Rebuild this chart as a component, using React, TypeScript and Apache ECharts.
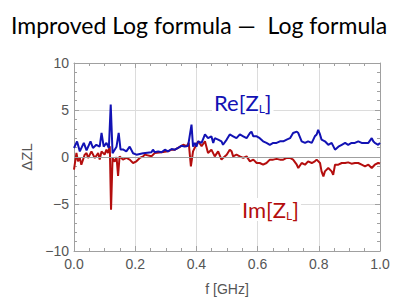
import React, { useEffect, useRef } from "react";
import * as echarts from "echarts";

const reFreq = [0.000,0.010,0.019,0.032,0.041,0.054,0.062,0.073,0.084,0.090,0.097,0.106,0.114,0.120,0.126,0.139,0.146,0.152,0.160,0.171,0.182,0.193,0.204,0.226,0.253,0.258,0.264,0.275,0.286,0.297,0.307,0.319,0.330,0.340,0.351,0.362,0.373,0.384,0.389,0.395,0.400,0.406,0.417,0.428,0.438,0.449,0.455,0.460,0.471,0.482,0.487,0.499,0.509,0.520,0.531,0.542,0.553,0.564,0.575,0.580,0.586,0.597,0.607,0.618,0.629,0.640,0.651,0.662,0.673,0.684,0.695,0.706,0.716,0.728,0.733,0.744,0.755,0.765,0.777,0.787,0.793,0.798,0.804,0.809,0.820,0.831,0.842,0.853,0.864,0.875,0.886,0.896,0.907,0.918,0.929,0.940,0.951,0.962,0.973,0.978,0.983,0.994,1.000];
const reVals = [0.96,1.66,0.6,1.5,0.7,1.66,0.96,1.3,1.1,2.56,1.1,1.5,0.96,5.57,0.4,1.1,2.56,0.8,0.8,0.6,1.1,0.4,0.25,0.4,0.5,0.78,0.5,0.6,0.5,0.78,0.6,0.85,0.78,0.96,1.2,1.1,1.2,3.45,1.1,1.5,1.1,1.67,1.5,2.4,2.0,2.2,1.5,2.0,1.85,1.67,1.3,1.85,2.4,2.2,2.0,2.4,2.2,2.0,2.55,2.7,2.2,2.2,2.0,1.67,1.5,1.3,1.5,1.5,1.67,1.67,1.85,2.0,2.55,2.7,2.55,1.67,1.5,1.67,1.5,2.2,2.4,2.9,2.4,1.85,1.67,1.3,1.5,0.78,1.1,1.3,1.5,1.3,1.5,1.5,1.67,1.5,1.5,1.5,2.0,1.67,1.5,1.3,1.5];

const imFreq = [0.000,0.008,0.013,0.019,0.024,0.035,0.041,0.046,0.057,0.068,0.079,0.084,0.090,0.100,0.106,0.111,0.117,0.121,0.126,0.133,0.139,0.144,0.149,0.160,0.171,0.182,0.193,0.204,0.215,0.226,0.231,0.253,0.264,0.286,0.307,0.319,0.330,0.340,0.357,0.368,0.375,0.382,0.389,0.397,0.406,0.417,0.428,0.438,0.449,0.460,0.471,0.482,0.487,0.499,0.509,0.515,0.520,0.531,0.542,0.553,0.564,0.575,0.586,0.597,0.607,0.618,0.629,0.640,0.651,0.662,0.673,0.684,0.695,0.706,0.716,0.728,0.733,0.744,0.755,0.765,0.777,0.787,0.793,0.804,0.809,0.815,0.820,0.831,0.842,0.847,0.853,0.864,0.875,0.886,0.896,0.907,0.918,0.929,0.940,0.951,0.962,0.973,0.983,0.994,1.000];
const imVals = [-1.35,0.43,-0.46,-0.1,-0.82,0.25,0.43,-0.1,0.6,-0.1,0.43,-0.28,0.6,0.25,0.78,0.43,1.14,-5.6,-0.1,-0.5,0.0,-2.0,0.07,-0.28,-0.1,-0.28,-0.64,-0.46,-0.1,0.07,0.25,0.07,0.43,0.5,0.6,0.78,0.78,0.96,1.3,1.14,1.5,-1.0,0.6,1.14,1.67,1.14,1.67,0.43,0.78,0.07,0.6,-0.28,-0.1,0.25,0.78,0.6,0.07,0.25,0.07,-0.1,0.07,-0.46,-0.28,-0.64,-0.64,-0.82,-0.64,-0.28,-0.28,-0.2,-0.28,-0.28,-0.1,-0.1,-0.28,-0.82,-1.17,-0.64,-0.82,-0.46,-0.64,-0.46,-0.28,-0.64,-1.53,-2.06,-1.53,-1.17,-1.53,-1.9,-0.82,-0.82,-0.64,-0.64,-0.57,-0.71,-0.64,-0.64,-0.82,-1.0,-0.82,-1.17,-0.82,-0.64,-0.7];

const titleText = "Improved Log formula \u2014  Log formula";
const xName = "f [GHz]";
const yName = "\u0394ZL";

const BLUE = "#1212b4";
const RED = "#b40e0e";

export default function App() {
  const ref = useRef<HTMLDivElement>(null);
  useEffect(() => {
    if (!ref.current) return;
    const chart = echarts.init(ref.current, undefined, { renderer: "svg" });
    const axisFont = { fontFamily: "Liberation Sans", fontSize: 14, color: "#555" };
    const tickCommon = {
      axisLine: { show: true, onZero: false, lineStyle: { color: "#a0a0a0", width: 1 } },
      axisTick: { show: true, inside: true, length: 5, lineStyle: { color: "#a0a0a0" } },
    };
    const option: any = {
      animation: false,
      backgroundColor: "#fff",
      title: {
        text: titleText,
        left: 6,
        top: 8,
        textStyle: { fontFamily: "Lato", fontSize: 23, fontWeight: "normal", color: "#000" },
      },
      grid: { left: 74, right: 27, top: 63, bottom: 57 },
      xAxis: [
        {
          type: "value",
          min: 0,
          max: 1,
          interval: 0.2,
          ...tickCommon,
          minorTick: { show: true, splitNumber: 4, length: 3, lineStyle: { color: "#a0a0a0" } },
          splitLine: { show: true, lineStyle: { color: "#dcdcdc" } },
          axisLabel: { ...axisFont, margin: 6, formatter: (v: number) => v.toFixed(1) },
          name: xName,
          nameLocation: "middle",
          nameGap: 31,
          nameTextStyle: { ...axisFont },
        },
        {
          type: "value",
          position: "top",
          min: 0,
          max: 1,
          interval: 0.2,
          ...tickCommon,
          minorTick: { show: true, splitNumber: 4, length: 3, lineStyle: { color: "#a0a0a0" } },
          splitLine: { show: false },
          axisLabel: { show: false },
        },
      ],
      yAxis: [
        {
          type: "value",
          min: -10,
          max: 10,
          interval: 5,
          ...tickCommon,
          minorTick: { show: true, splitNumber: 5, length: 3, lineStyle: { color: "#a0a0a0" } },
          splitLine: { show: true, lineStyle: { color: "#dcdcdc" } },
          axisLabel: {
            ...axisFont,
            margin: 5,
            formatter: (v: number) => (v < 0 ? "\u2212" + Math.abs(v) : String(v)),
          },
          name: yName,
          nameLocation: "middle",
          nameGap: 37,
          nameRotate: 90,
          nameTextStyle: { ...axisFont, fontSize: 15 },
        },
        {
          type: "value",
          position: "right",
          min: -10,
          max: 10,
          interval: 5,
          ...tickCommon,
          minorTick: { show: true, splitNumber: 5, length: 3, lineStyle: { color: "#a0a0a0" } },
          splitLine: { show: false },
          axisLabel: { show: false },
        },
      ],
      series: [
        {
          type: "line",
          data: reFreq.map((f, i) => [f, reVals[i]]),
          showSymbol: false,
          lineStyle: { color: BLUE, width: 2 },
          itemStyle: { color: BLUE },
          silent: true,
          z: 3,
          markLine: {
            silent: true,
            symbol: "none",
            label: { show: false },
            lineStyle: { color: "#a0a0a0", width: 1, type: "solid" },
            data: [{ yAxis: 0 }],
          },
        },
        {
          type: "line",
          data: imFreq.map((f, i) => [f, imVals[i]]),
          showSymbol: false,
          lineStyle: { color: RED, width: 2 },
          itemStyle: { color: RED },
          silent: true,
          z: 2,
        },
      ],
      graphic: [
        {
          type: "text",
          left: 212,
          top: 91,
          z: 10,
          style: {
            text: "Re[Z{s|L}]",
            fill: BLUE,
            fontFamily: "Lato",
            fontSize: 22,
            backgroundColor: "#fff",
            padding: [0, 2, 0, 2],
            rich: { s: { fontSize: 12, fill: BLUE, fontFamily: "Lato", padding: [11, 0, 0, 0] } },
          },
        },
        {
          type: "text",
          left: 240,
          top: 198,
          z: 10,
          style: {
            text: "Im[Z{s|L}]",
            fill: RED,
            fontFamily: "Lato",
            fontSize: 22,
            backgroundColor: "#fff",
            padding: [0, 2, 0, 2],
            rich: { s: { fontSize: 12, fill: RED, fontFamily: "Lato", padding: [11, 0, 0, 0] } },
          },
        },
      ],
    };
    chart.setOption(option);
    return () => chart.dispose();
  }, []);
  return <div ref={ref} style={{ width: 407, height: 308, margin: -8 }} />;
}
